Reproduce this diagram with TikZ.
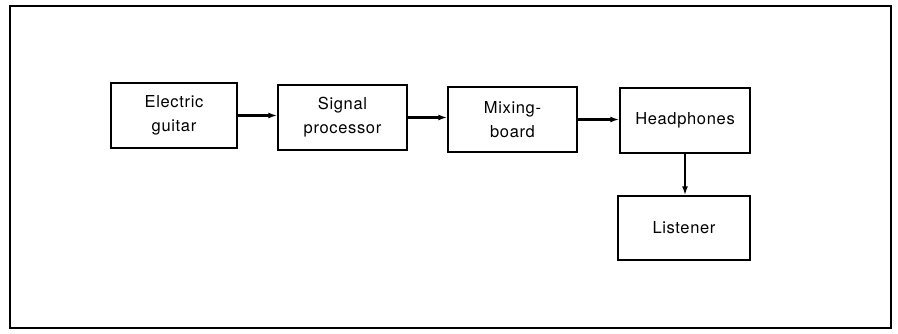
\documentclass[tikz,border=0pt]{standalone}
\usepackage{fontspec}
\setmainfont[LetterSpace=4]{TeX Gyre Heros}
\usetikzlibrary{arrows.meta}
\begin{document}
\begin{tikzpicture}[x=1pt,y=-1pt,
  blk/.style={draw,line width=1.4pt,rectangle,inner sep=0pt,align=center,
    font=\fontsize{16.5}{24}\selectfont},
  conn/.style={line width=2.4pt,-{Latex[length=9pt,width=6pt]}}]
\useasboundingbox (0,0) rectangle (898,334);
\draw[line width=1.3pt] (10,6) rectangle (891,328);
\node[blk,minimum width=126pt,minimum height=65pt] (eg) at (174,115.5) {Electric\\guitar};
\node[blk,minimum width=129pt,minimum height=65pt] (sp) at (342.5,117.5) {Signal\\processor};
\node[blk,minimum width=129pt,minimum height=65pt] (mb) at (512.5,119.5) {Mixing-\\board};
\node[blk,minimum width=130pt,minimum height=65pt] (hp) at (685,120.5) {Headphones};
\node[blk,minimum width=132pt,minimum height=64pt] (ls) at (684,228) {Listener};
\draw[conn] (eg.east) -- (eg.east -| sp.west);
\draw[conn] (sp.east) -- (sp.east -| mb.west);
\draw[conn] (mb.east) -- (mb.east -| hp.west);
\draw[conn] (hp.south) -- (hp.south |- ls.north);
\end{tikzpicture}
\end{document}
